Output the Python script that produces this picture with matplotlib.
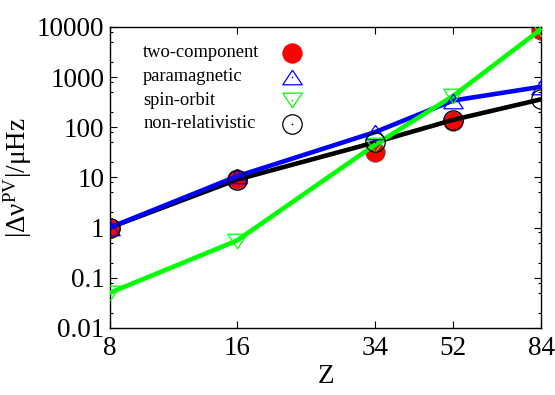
import matplotlib
matplotlib.use('Agg')
import matplotlib.pyplot as plt
from matplotlib.ticker import FixedLocator, NullLocator, LogLocator, FuncFormatter

plt.rcParams['font.family'] = ['Liberation Serif', 'DejaVu Serif']
plt.rcParams['mathtext.fontset'] = 'custom'
plt.rcParams['mathtext.rm'] = 'Liberation Serif'
plt.rcParams['mathtext.it'] = 'Liberation Serif:italic'

# ─── data ──────────────────────────────────────────────────────────────────
Z = [8, 16, 34, 52, 84]
two_component = [1.0, 9.3, 32, 130, 8800]
paramagnetic = [1.0, 10.5, 80, 340, 640]
spin_orbit = [0.05, 0.55, 45, 420, 9000]
non_relativistic = [1.0, 9.0, 50, 140, 360]

x_ticks = [8, 16, 34, 52, 84]
y_ticks = [0.01, 0.1, 1, 10, 100, 1000, 10000]
labels = ['two-component', 'paramagnetic', 'spin-orbit', 'non-relativistic']

# gnuplot-style flat triangles
tri_up = [(0, 0.75), (-1, -0.75), (1, -0.75), (0, 0.75)]
tri_dn = [(0, -0.75), (-1, 0.75), (1, 0.75), (0, -0.75)]

styles = [
    dict(marker='o', ms=14, mfc='red', mec='#555555', mew=0.6),
    dict(marker=tri_up, ms=14, mfc='none', mec='blue', mew=0.9),
    dict(marker=tri_dn, ms=14, mfc='none', mec='#00ff00', mew=0.9),
    dict(marker='o', ms=14, mfc='none', mec='black', mew=0.9),
]
dot_colors = [None, 'blue', '#00ff00', 'black']

fig = plt.figure(figsize=(5.55, 3.95), dpi=100)
ax = fig.add_axes([0.198, 0.170, 0.777, 0.762])

# red filled circles
ax.plot(Z, two_component, ls='none', zorder=2, **styles[0])

# lines
ax.plot(Z, non_relativistic, '-', color='black', lw=3.3, zorder=3)
ax.plot(Z, paramagnetic, '-', color='blue', lw=3.3, zorder=3)
ax.plot(Z, spin_orbit, '-', color='#00ff00', lw=3.3, zorder=3)

# open markers (with the small centre dot gnuplot draws)
for ys, st, dc in zip([paramagnetic, spin_orbit, non_relativistic], styles[1:], dot_colors[1:]):
    ax.plot(Z, ys, ls='none', zorder=4, **st)
    ax.plot(Z, ys, ls='none', marker='o', ms=1.2, mfc=dc, mec=dc, mew=0, zorder=4)

ax.set_xscale('log')
ax.set_yscale('log')
ax.set_xlim(8, 84)
ax.set_ylim(0.01, 10000)

ax.xaxis.set_major_locator(FixedLocator(x_ticks))
ax.xaxis.set_minor_locator(NullLocator())
ax.xaxis.set_major_formatter(FuncFormatter(lambda v, p: f'{v:g}'))
ax.yaxis.set_major_locator(FixedLocator(y_ticks))
ax.yaxis.set_minor_locator(LogLocator(base=10, subs=[2, 5, 8], numticks=20))
ax.yaxis.set_major_formatter(FuncFormatter(lambda v, p: f'{v:g}'))

ax.tick_params(which='both', direction='in', top=True, right=True, labelsize=19.5, width=0.8)
ax.tick_params(which='major', length=5)
ax.tick_params(which='minor', length=2.5)
ax.tick_params(axis='x', pad=6)
ax.tick_params(axis='y', pad=4)
for s in ax.spines.values():
    s.set_linewidth(1.0)

ax.set_xlabel('Z', fontsize=19.5, labelpad=2)
ax.set_ylabel(r'$\mathrm{|Δν^{PV}|/μHz}$', fontsize=19.5, labelpad=2)

# key: text left-aligned, sample marker to the right
row_y = [0.914, 0.834, 0.757, 0.678]
for lab, st, dc, y in zip(labels, styles, dot_colors, row_y):
    ax.text(0.077, y, lab, transform=ax.transAxes, fontsize=13.3,
            ha='left', va='center')
    st = dict(st)
    if st['mfc'] == 'red':
        st['mec'] = 'red'
    ax.plot([0.422], [y], transform=ax.transAxes, ls='none', clip_on=False,
            zorder=5, **st)
    if dc:
        ax.plot([0.422], [y], transform=ax.transAxes, ls='none', marker='o',
                ms=1.2, mfc=dc, mec=dc, mew=0, zorder=5)

fig.savefig('out.png', dpi=100)
